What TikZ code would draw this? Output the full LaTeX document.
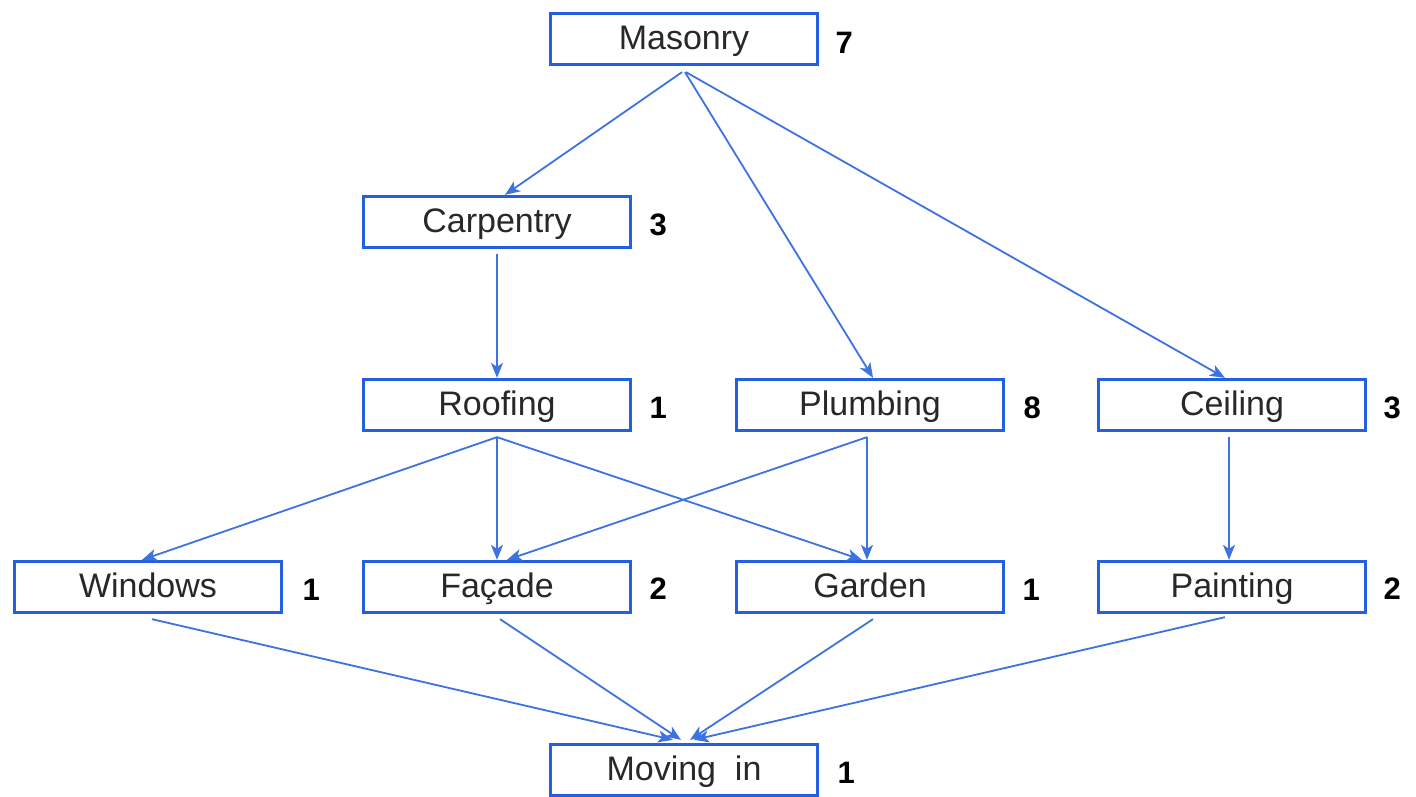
\documentclass[tikz,border=0pt]{standalone}
\usepackage{fontspec}
\setmainfont{Liberation Sans}
\usetikzlibrary{arrows.meta,calc}
\definecolor{boxblue}{RGB}{35,95,225}
\definecolor{lineblue}{RGB}{60,115,225}
\definecolor{txt}{RGB}{40,40,40}
\tikzset{
  task/.style={draw=boxblue, line width=3.3pt, fill=white, minimum width=267pt, minimum height=51pt,
    inner sep=0pt, text height=24pt, text depth=3pt, text=txt, font=\fontsize{34}{40}\selectfont},
  dur/.style={font=\fontsize{31}{37}\selectfont\bfseries, text=black, inner sep=0pt},
  link/.style={draw=lineblue, line width=1.8pt, -{Stealth[length=15pt,width=12pt,inset=4pt]}}
}
\begin{document}
\begin{tikzpicture}[x=1pt,y=-1pt]
\useasboundingbox (0,0) rectangle (1416,797);
\node[task] (mas) at (684,39) {Masonry};
\node[task] (carp) at (497,222) {Carpentry};
\node[task] (roof) at (497,405) {Roofing};
\node[task] (plumb) at (870,405) {Plumbing};
\node[task] (ceil) at (1232,405) {Ceiling};
\node[task] (win) at (148,587) {Windows};
\node[task] (fac) at (497,587) {Façade};
\node[task] (gard) at (870,587) {Garden};
\node[task] (paint) at (1232,587) {Painting};
\node[task] (move) at (684,770) {Moving\ \ in};

\node[dur] (dmas) at ($(mas.east)+(25,4)$) {7};
\node[dur] (dcarp) at ($(carp.east)+(26,3)$) {3};
\node[dur] (droof) at ($(roof.east)+(26,3)$) {1};
\node[dur] (dplumb) at ($(plumb.east)+(27,3)$) {8};
\node[dur] (dceil) at ($(ceil.east)+(25,3)$) {3};
\node[dur] (dwin) at ($(win.east)+(28,3)$) {1};
\node[dur] (dfac) at ($(fac.east)+(26,2)$) {2};
\node[dur] (dgard) at ($(gard.east)+(26,3)$) {1};
\node[dur] (dpaint) at ($(paint.east)+(25,2)$) {2};
\node[dur] (dmove) at ($(move.east)+(27,3)$) {1};

\draw[link] ($(mas.south)+(-2,6)$) -- ($(carp.north)+(8,0)$);
\draw[link] ($(mas.south)+(1,6)$) -- ($(plumb.north)+(3,0)$);
\draw[link] ($(mas.south)+(2,6)$) -- ($(ceil.north)+(-7,0)$);
\draw[link] ($(carp.south)+(0,5)$) -- (roof.north);
\draw[link] ($(roof.south)+(0,5)$) -- ($(win.north)+(-6,0)$);
\draw[link] ($(roof.south)+(0,5)$) -- (fac.north);
\draw[link] ($(roof.south)+(0,5)$) -- ($(gard.north)+(-8,0)$);
\draw[link] ($(plumb.south)+(-3,5)$) -- ($(fac.north)+(10,0)$);
\draw[link] ($(plumb.south)+(-3,5)$) -- ($(gard.north)+(-3,0)$);
\draw[link] ($(ceil.south)+(-3,5)$) -- ($(paint.north)+(-3,0)$);
\draw[link] ($(win.south)+(4,5)$) -- ($(move.north)+(-11,-3)$);
\draw[link] ($(fac.south)+(3,5)$) -- ($(move.north)+(-3,-3)$);
\draw[link] ($(gard.south)+(3,5)$) -- ($(move.north)+(6,-3)$);
\draw[link] ($(paint.south)+(-7,3)$) -- ($(move.north)+(10,-3)$);
\end{tikzpicture}
\end{document}
